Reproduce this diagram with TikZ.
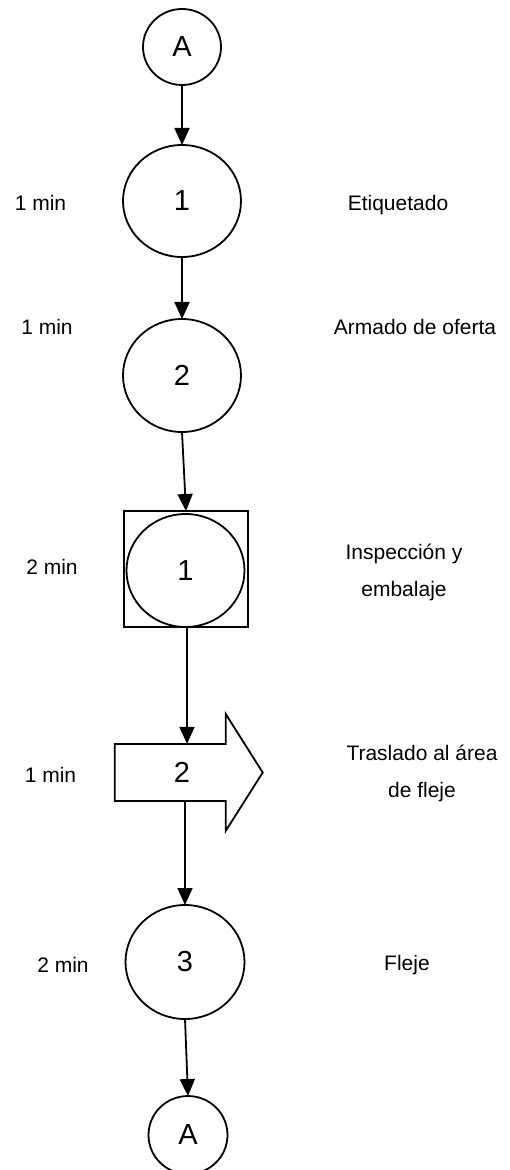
\documentclass[tikz,border=0pt]{standalone}
\usepackage{fontspec}
\setmainfont{Liberation Sans}
\usetikzlibrary{arrows.meta,shapes.geometric}
\begin{document}
\begin{tikzpicture}[x=0.5pt,y=-0.5pt,
  every node/.style={inner sep=0pt, outer sep=0pt},
  oval/.style={ellipse, draw, line width=0.9pt},
  num/.style={font=\fontsize{14.5}{16}\selectfont},
  lbl/.style={font=\fontsize{10.5}{18.5}\selectfont, align=center},
  flow/.style={line width=0.9pt, -{Triangle[width=7.5pt,length=8.5pt]}},
  edge/.style={line width=0.9pt, line join=miter}]
\useasboundingbox (0,0) rectangle (509,1170);
% shapes
\node[oval, num, minimum width=39pt, minimum height=38pt] (A1) at (182,47) {A};
\node[oval, num, minimum width=59pt, minimum height=56pt] (c1) at (182,201) {1};
\node[oval, num, minimum width=59pt, minimum height=56.5pt] (c2) at (182,375.5) {2};
\node[draw, edge, minimum width=62pt, minimum height=58pt] (sq) at (186,569) {};
\node[oval, num, minimum width=59pt, minimum height=56.5pt] (c4) at (185.5,570.5) {1};
\node[minimum width=55.5pt, minimum height=28.5pt] (t2) at (170.2,772.4) {};
\coordinate (tip) at (262.7,772.5);
\draw[edge] (t2.north west) -- (t2.north east) -- ++(0,-30) -- (tip)
  -- ([yshift=-15pt]t2.south east) -- (t2.south east) -- (t2.south west) -- cycle;
\node[num] (n2) at (182,772) {2};
\node[oval, num, minimum width=59.5pt, minimum height=57pt] (c3) at (185,962) {3};
\node[oval, num, minimum width=39.5pt, minimum height=39pt] (A2) at (188,1135) {A};
% connectors
\draw[flow] (A1.south) -- (c1.north);
\draw[flow] (c1.south) -- (c2.north);
\draw[flow] (c2.south) -- (sq.north);
\draw[flow] (sq.south -| 187,0) -- (t2.north -| 187,0);
\draw[flow] (t2.south -| c3.north) -- (c3.north);
\draw[flow] (c3.south) -- (A2.north);
% left labels
\node[lbl] (m1) at (40.5,203) {1 min};
\node[lbl] (m2) at (47,327) {1 min};
\node[lbl] (m3) at (52,567) {2 min};
\node[lbl] (m4) at (50.5,775) {1 min};
\node[lbl] (m5) at (63,965) {2 min};
% right labels
\node[lbl] (d1) at (398,205) {Etiquetado};
\node[lbl] (d2) at (415,327) {Armado de oferta};
\node[lbl] (d3) at (404,572.5) {Inspección y\\embalaje};
\node[lbl] (d4) at (422,773.5) {Traslado al área\\de fleje};
\node[lbl] (d5) at (407,965) {Fleje};
\end{tikzpicture}
\end{document}
